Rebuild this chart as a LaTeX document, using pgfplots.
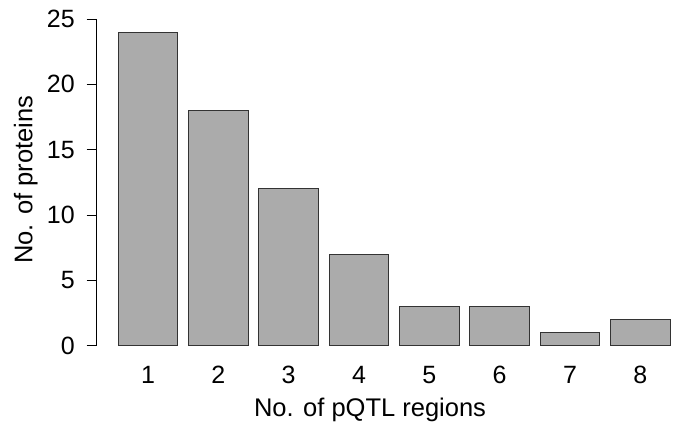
\documentclass[border=0pt]{standalone}
\usepackage{fontspec}
\setmainfont{Liberation Sans}
\usepackage{pgfplots}
\pgfplotsset{compat=1.18}

\begin{document}
\begin{tikzpicture}
\begin{axis}[
  name=ax,
  at={(0,0)}, anchor=south west,
  scale only axis,
  width=582.3pt, height=352.9pt,
  xmin=0.271, xmax=8.55,
  ymin=-1, ymax=26,
  axis x line*=bottom,
  axis y line*=left,
  x axis line style={draw=none},
  y axis line style={draw=none},
  xtick={1,...,8},
  ytick={0,5,...,25},
  xtick align=inside,
  ytick align=outside,
  major tick length=10pt,
  xtick style={draw=none},
  ytick style={black, line width=0.9pt},
  /pgf/number format/assume math mode=true,
  xticklabel style={font=\fontsize{25}{30}\selectfont, anchor=base, inner sep=0pt, yshift=-14.9pt},
  yticklabel style={font=\fontsize{25}{30}\selectfont, anchor=east, inner sep=0pt, xshift=-11.7pt},
  xlabel={No. of pQTL regions},
  ylabel={No. of proteins},
  xlabel style={font=\fontsize{25.5}{30}\selectfont, at={(axis description cs:0.4694,-0.1641)}, anchor=base, inner sep=0pt},
  ylabel style={font=\fontsize{25.5}{30}\selectfont, at={(axis description cs:-0.1106,0.5075)}, anchor=base, rotate=0, inner sep=0pt},
  ybar,
  bar width=0.845,
  clip=false,
]
  \addplot[fill=black!33, draw=black!80, line width=0.9pt] coordinates {
    (1,24) (2,18) (3,12) (4,7) (5,3) (6,3) (7,1) (8,2)
  };
  % y axis line runs only between the first and last tick
  \draw[black, line width=0.9pt] (axis cs:0.271,0) -- (axis cs:0.271,25);
\end{axis}
\pgfresetboundingbox
\path[use as bounding box] (-96.7pt,-69.2pt) rectangle (582.3pt,358.8pt);
\end{tikzpicture}
\end{document}
